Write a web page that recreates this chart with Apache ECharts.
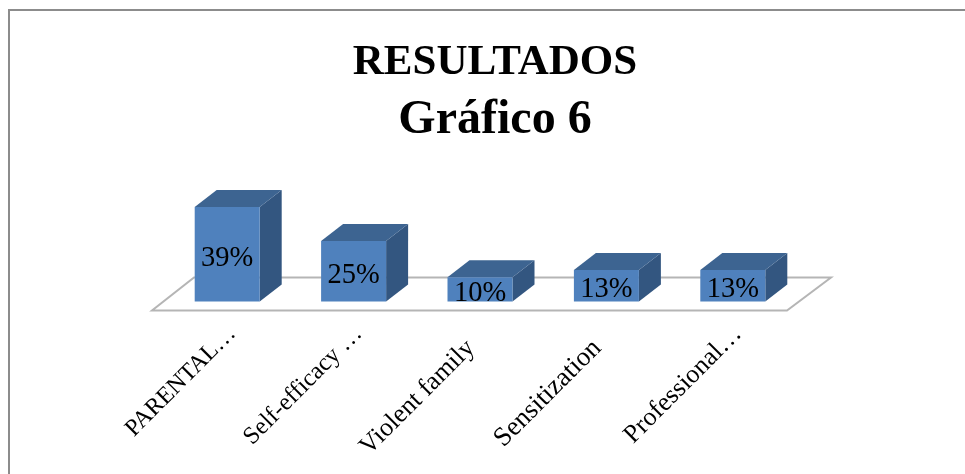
<!DOCTYPE html>
<html>
<head>
<meta charset="utf-8">
<script src="https://cdn.jsdelivr.net/npm/echarts@6/dist/echarts.min.js"></script>
<style>html,body{margin:0;padding:0;background:#fff}#c{width:965px;height:474px}</style>
</head>
<body>
<div id="c"></div>
<script>
var categories = ['PARENTAL…', 'Self-efficacy …', 'Violent family', 'Sensitization', 'Professional…'];
var values = [39, 25, 10, 13, 13];
var titleLines = ['RESULTADOS', 'Gráfico 6'];

var serif = '"Liberation Serif","Noto Serif",serif';
var DX = 22, DY = 17, BAR = 65;
var labelStyles = [
  { fontSize: 24 },
  { fontSize: 24.5 },
  { fontSize: 26, padding: [0, 13, 0, 0] },
  { fontSize: 27, padding: [0, 13, 0, 0] },
  { fontSize: 26 }
];

function renderBar(params, api) {
  var v = api.value(1);
  var top = api.coord([api.value(0), v]);
  var base = api.coord([api.value(0), 0]);
  var l = top[0] - BAR / 2, r = top[0] + BAR / 2, t = top[1], b = base[1];
  return {
    type: 'group',
    children: [
      { type: 'polygon', shape: { points: [[r, t], [r + DX, t - DY], [r + DX, b - DY], [r, b]] }, style: { fill: '#335680' } },
      { type: 'polygon', shape: { points: [[l, t], [l + DX, t - DY], [r + DX, t - DY], [r, t]] }, style: { fill: '#3d6491' } },
      { type: 'rect', shape: { x: l, y: t, width: BAR, height: b - t }, style: { fill: '#4f81bd' } },
      { type: 'text', style: { x: top[0], y: (t + b) / 2 + 4, text: v + '%', fill: '#000', font: '28.5px ' + serif, align: 'center', verticalAlign: 'middle' } }
    ]
  };
}

function renderFloor(params, api) {
  var cs = params.coordSys;
  var yb = cs.y + cs.height;
  var pts = [[cs.x - 12, yb + 9], [cs.x + cs.width - 9, yb + 9], [cs.x + cs.width + 35, yb - 24], [cs.x + 30, yb - 24]];
  return {
    type: 'polygon',
    shape: { points: pts },
    style: { fill: '#fff', stroke: '#b5b5b5', lineWidth: 2 }
  };
}

var chart = echarts.init(document.getElementById('c'), null, { renderer: 'canvas' });
chart.setOption({
  animation: false,
  backgroundColor: '#fff',
  title: {
    text: '{a|' + titleLines[0] + '}\n{b|' + titleLines[1] + '}',
    left: 490, top: 30, textAlign: 'center',
    textStyle: {
      rich: {
        a: { fontFamily: serif, fontWeight: 'bold', fontSize: 43, lineHeight: 55, color: '#000' },
        b: { fontFamily: serif, fontWeight: 'bold', fontSize: 48, lineHeight: 61, color: '#000' }
      }
    }
  },
  grid: { left: 164, top: 180.5, width: 632, height: 121, containLabel: false },
  xAxis: {
    type: 'category',
    data: categories.map(function (c, i) { return { value: c, textStyle: labelStyles[i] }; }),
    axisLine: { show: false },
    axisTick: { show: false },
    axisLabel: { rotate: 45, interval: 0, margin: 33.5, padding: [0, -7, 0, 0], fontFamily: serif, fontSize: 25, color: '#000' }
  },
  yAxis: { type: 'value', min: 0, max: 50, interval: 10, show: false, splitLine: { show: false } },
  graphic: [
    { type: 'polyline', silent: true, shape: { points: [[9, 474], [9, 10], [965, 10]] }, style: { fill: null, stroke: '#8c8c8c', lineWidth: 2 } }
  ],
  series: [
    { type: 'custom', data: [[0, 0]], renderItem: renderFloor, z: 1, silent: true, clip: false },
    { type: 'custom', data: values.map(function (v, i) { return [i, v]; }), encode: { x: 0, y: 1 }, renderItem: renderBar, z: 2, clip: false }
  ]
});
</script>
</body>
</html>
